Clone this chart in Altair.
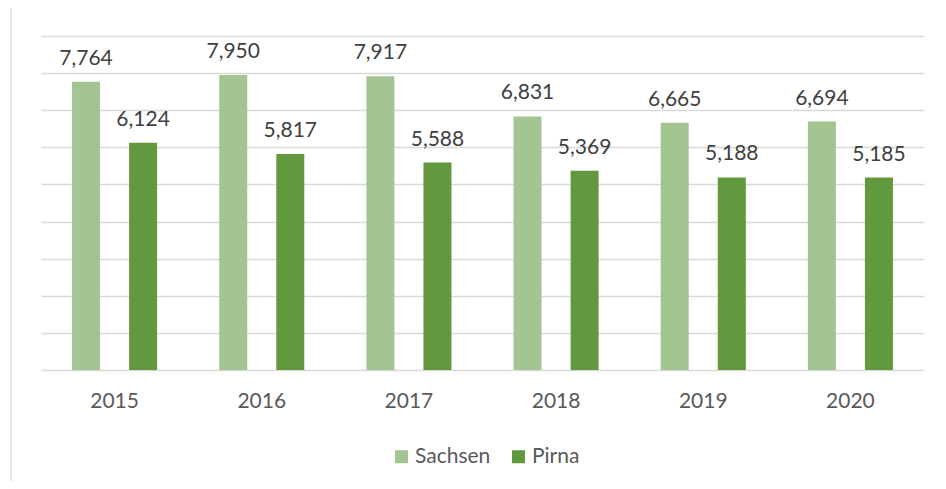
import altair as alt
import pandas as pd

years = ["2015", "2016", "2017", "2018", "2019", "2020"]
series = ["Sachsen", "Pirna"]
sachsen = [7764, 7950, 7917, 6831, 6665, 6694]
pirna = [6124, 5817, 5588, 5369, 5188, 5185]
colors = ["#a3c592", "#62993e"]

rows = []
for i, yr in enumerate(years):
    rows.append({"year": yr, "series": "Sachsen", "value": sachsen[i]})
    rows.append({"year": yr, "series": "Pirna", "value": pirna[i]})
df = pd.DataFrame(rows)

W, H = 883, 334
FONT = "Lato"

x = alt.X("year:N", sort=years,
          scale=alt.Scale(paddingInner=0, paddingOuter=0),
          axis=alt.Axis(title=None, labelAngle=0, ticks=False, tickSize=0, domain=False,
                        labelPadding=20, labelFont=FONT, labelFontSize=21,
                        labelColor="#595959", grid=False))
xo = alt.XOffset("series:N", sort=series,
                 scale=alt.Scale(paddingInner=0.509, paddingOuter=0.544))
y = alt.Y("value:Q", scale=alt.Scale(domain=[0, 9000], nice=False),
          axis=alt.Axis(title=None, labels=False, ticks=False, domain=False,
                        values=list(range(0, 9001, 1000)),
                        gridColor="#d9d9d9", gridWidth=1.3))
color = alt.Color("series:N", sort=series,
                  scale=alt.Scale(domain=series, range=colors),
                  legend=alt.Legend(title=None, orient="none", legendX=350, legendY=410,
                                    direction="horizontal", symbolType="square",
                                    symbolSize=169, symbolStrokeWidth=0,
                                    labelFont=FONT, labelFontSize=21,
                                    labelColor="#595959", labelOffset=3,
                                    columnPadding=17, padding=0))

base = alt.Chart(df)
bars = base.mark_bar().encode(x=x, xOffset=xo, y=y, color=color)
labels = base.mark_text(baseline="alphabetic", dy=-17, font=FONT, fontSize=21,
                        color="#404040").encode(
    x=x, xOffset=xo, y=y, text=alt.Text("value:Q", format=",d"))

border = alt.Chart(pd.DataFrame({"a": [0]})).mark_rect(
    fillOpacity=0, stroke="#d9d9d9", strokeWidth=1.3).encode(
    x=alt.value(-30), x2=alt.value(1000), y=alt.value(-29), y2=alt.value(700))

chart = alt.layer(border, bars, labels).properties(
    width=W, height=H,
    padding={"left": 33, "top": 28, "right": 14, "bottom": 111},
    autosize=alt.AutoSizeParams(type="none"),
).configure_view(strokeWidth=0)

chart.save("out.html", embed_options={"renderer": "svg", "actions": False})
